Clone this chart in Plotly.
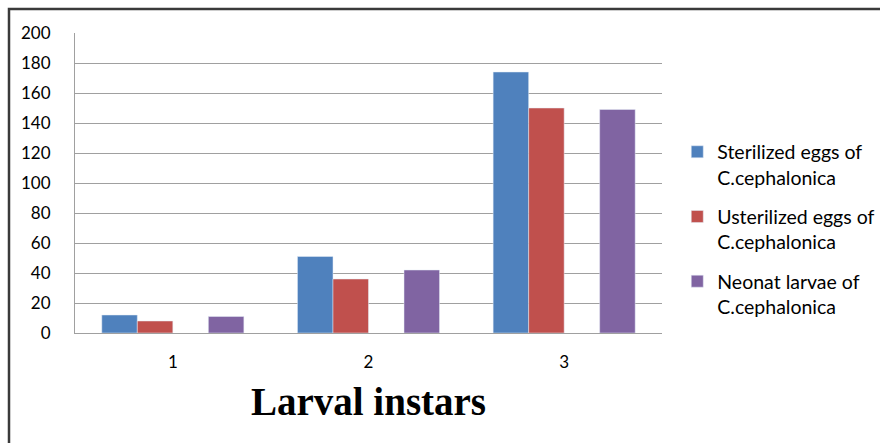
import plotly.graph_objects as go

categories = ["1", "2", "3"]
sterilized = [12, 51, 174]
unsterilized = [8, 36, 150]
neonat = [11, 42, 149]
series_names = ["Sterilized eggs of<br>C.cephalonica",
                "Usterilized eggs of<br>C.cephalonica",
                "Neonat larvae of<br>C.cephalonica"]
colors = ["#4F81BD", "#C0504D", "#8064A2"]

fig = go.Figure()
fig.add_trace(go.Bar(x=categories, y=sterilized, name=series_names[0],
                     marker_color=colors[0], legendgroup="a"))
fig.add_trace(go.Bar(x=categories, y=unsterilized, name=series_names[1],
                     marker_color=colors[1], legendgroup="b"))
# empty placeholder series (blank slot in original chart)
fig.add_trace(go.Bar(x=categories, y=[None, None, None], showlegend=False,
                     hoverinfo="skip"))
fig.add_trace(go.Bar(x=categories, y=neonat, name=series_names[2],
                     marker_color=colors[2], legendgroup="c"))

font_family = "Lato, Open Sans, sans-serif"
fig.update_layout(
    width=880, height=443,
    margin=dict(l=75, r=218, t=33, b=110, autoexpand=False),
    paper_bgcolor="white", plot_bgcolor="white",
    barmode="group", bargap=0.274, bargroupgap=0,
    font=dict(family=font_family, size=17, color="#000000"),
    showlegend=True,
    legend=dict(x=1.026, xanchor="left", y=0.668, yanchor="top",
                valign="top", tracegroupgap=11, itemwidth=30,
                font=dict(family=font_family, size=19.5, color="#000000")),
    xaxis=dict(showgrid=False, showline=True, linecolor="#A0A0A0", linewidth=1,
               ticks="", ticklabelstandoff=14,
               tickfont=dict(family=font_family, size=17),
               title=dict(text="<b>Larval instars</b>",
                          font=dict(family="Liberation Serif, Times New Roman, serif",
                                    size=39, color="#000000"),
                          standoff=16)),
    yaxis=dict(range=[0, 200], dtick=20, showgrid=True, gridcolor="#A0A0A0",
               gridwidth=1, showline=True, linecolor="#A0A0A0", linewidth=1,
               zeroline=False, ticks="", ticklabelstandoff=20,
               tickfont=dict(family=font_family, size=17)),
    shapes=[dict(type="rect", xref="paper", yref="paper",
                 x0=(9 - 75) / 587, x1=2.0, y0=-2.0, y1=(333 - 9) / 300,
                 line=dict(color="#3A3A3A", width=2.5), fillcolor="rgba(0,0,0,0)",
                 layer="below")],
)

fig.write_html("out.html")
